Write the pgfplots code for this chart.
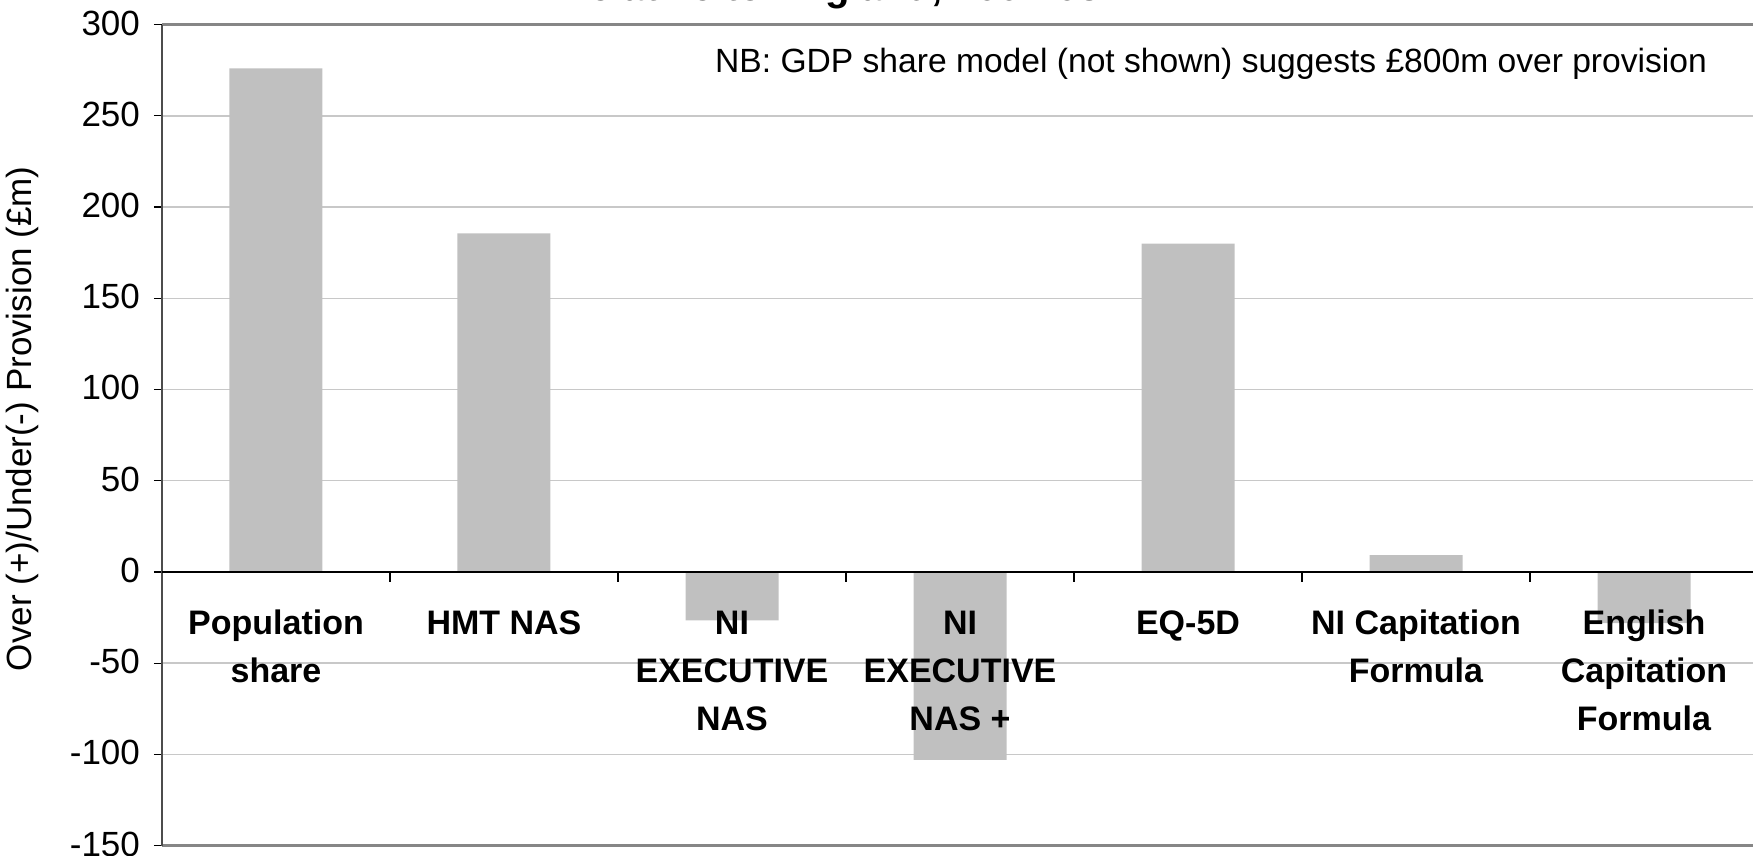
\documentclass[border=0pt]{standalone}
\usepackage{fontspec}
\setmainfont{Liberation Sans}
\usepackage{pgfplots}
\pgfplotsset{compat=1.18}
\definecolor{barg}{HTML}{C0C0C0}
\definecolor{frameg}{HTML}{868686}
\definecolor{gridg}{HTML}{C8C8C8}
\tikzset{
  % category names under the zero line, drawn over the bars;
  % each padded to three lines so the base anchor lines them up
  cat/.style={align=center, anchor=base, yshift=-79.3pt,
              font=\fontsize{17}{24}\selectfont\bfseries},
}

\begin{document}
\begin{tikzpicture}
\path[use as bounding box] (-81pt,-5pt) rectangle (795.5pt,422.8pt);
\clip (-81pt,-5pt) rectangle (795.5pt,422.8pt);
\begin{axis}[
  name=ax, at={(0,0)}, anchor=south west,
  scale only axis, width=798pt, height=410.5pt,
  xmin=-0.5, xmax=6.5, ymin=-150, ymax=300,
  ytick={-150,-100,...,300},
  xtick=\empty,
  ytick pos=left,
  major tick length=4pt,
  ytick style={black, line width=0.6pt, xshift=-4pt},
  yticklabel style={font=\fontsize{17.5}{20}\selectfont, xshift=-7.5pt, yshift=0.8pt},
  /pgf/number format/assume math mode=true,
  ymajorgrids, grid style={gridg, line width=0.7pt},
  separate axis lines,
  x axis line style={draw=frameg, line width=1.6pt},
  y axis line style={draw=black!70, line width=1.1pt},
  ylabel={Over (+)/Under(-) Provision (£m)},
  ylabel style={at={(axis description cs:-0.0877,0.52)}, anchor=center,
                font=\fontsize{17.5}{20}\selectfont},
  ybar, bar width=46.5pt, bar shift=0pt,
]
\addplot[fill=barg, draw=none] coordinates
  {(0,276) (1,185.5) (2,-26.5) (3,-103) (4,180) (5,9.2) (6,-28)};
\draw[black, line width=0.7pt] (axis cs:-0.5,0) -- (axis cs:6.5,0);
\pgfplotsinvokeforeach{0.5,1.5,2.5,3.5,4.5,5.5}{
  \draw[black, line width=0.6pt] (axis cs:#1,0) -- ([yshift=-5pt]axis cs:#1,0);
}
\node[cat] at (axis cs:0,0) {Population\\share\\\mbox{}};
\node[cat] at (axis cs:1,0) {HMT NAS\\\mbox{}\\\mbox{}};
\node[cat] at (axis cs:2,0) {NI\\EXECUTIVE\\NAS};
\node[cat] at (axis cs:3,0) {NI\\EXECUTIVE\\NAS +};
\node[cat] at (axis cs:4,0) {EQ-5D\\\mbox{}\\\mbox{}};
\node[cat] at (axis cs:5,0) {NI Capitation\\Formula\\\mbox{}};
\node[cat] at (axis cs:6,0) {English\\Capitation\\Formula};
\node[anchor=east, font=\fontsize{16.8}{20}\selectfont]
  at (axis description cs:0.9724,0.952)
  {NB: GDP share model (not shown) suggests £800m over provision};
\end{axis}
% title of the original, cut off by the top edge
\node[anchor=base east, font=\fontsize{20}{24}\selectfont\bfseries]
  at (473pt,422.6pt) {relative to England, 2007-08};
\end{tikzpicture}
\end{document}
